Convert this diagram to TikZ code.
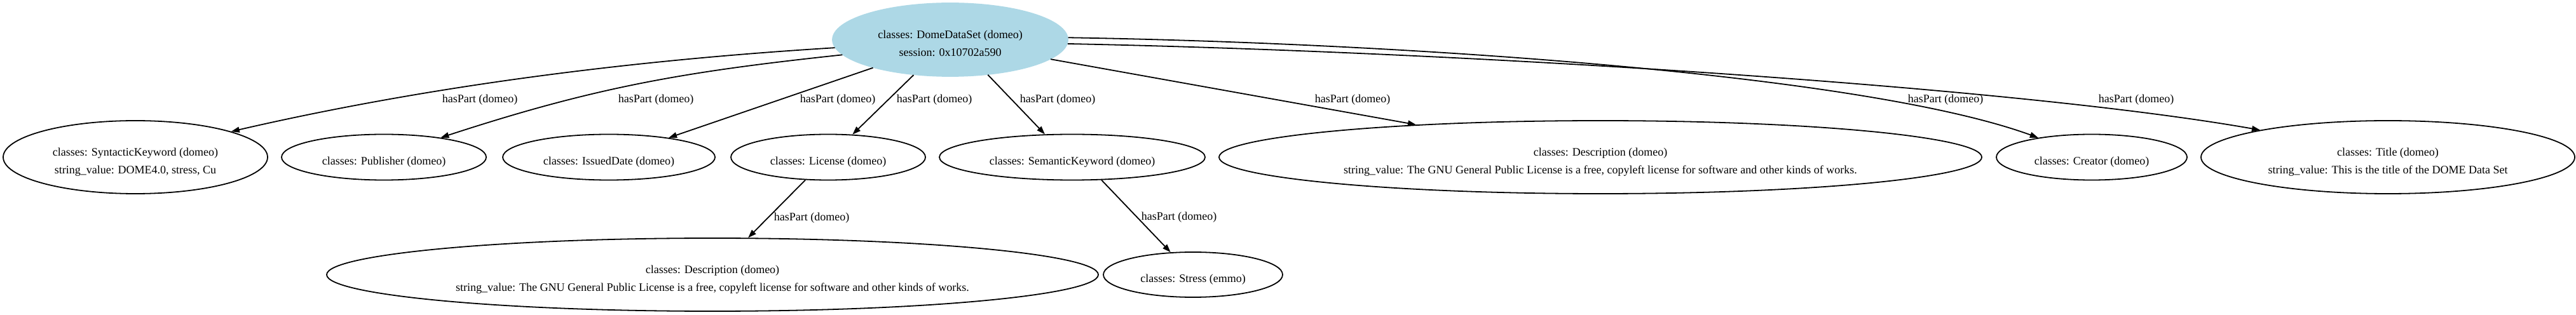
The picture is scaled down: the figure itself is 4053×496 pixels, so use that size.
\documentclass[tikz,border=0pt]{standalone}
\usepackage{fontspec}
\setmainfont{Liberation Serif}
\usetikzlibrary{arrows.meta,shapes.geometric}
\definecolor{rootblue}{HTML}{ADD8E6}
\newcommand\lowtxt[1]{\raisebox{-5.25pt}[0pt][0pt]{\begin{tabular}{@{}c@{}}#1\end{tabular}}}

\begin{document}
\begin{tikzpicture}[x=0.5pt,y=0.5pt,
  every node/.style={font=\fontsize{9}{14}\selectfont},
  obj/.style={ellipse,draw,line width=0.9pt,inner sep=0pt},
  dataset/.style={obj,fill=rootblue,draw=rootblue},
  haspart/.style={-{Triangle[length=6.5pt,width=4.5pt]},line width=0.9pt},
  lbl/.style={inner sep=0pt}]
  \useasboundingbox (0,0) rectangle (4053,-496);

  \node[dataset,minimum width=185pt,minimum height=57.5pt] (domedata) at (1495,-62.5)
    {\lowtxt{classes: DomeDataSet (domeo)\\session: 0x10702a590}};

  \node[obj,minimum width=208pt,minimum height=57.5pt] (synkey) at (213,-247.5)
    {\lowtxt{classes: SyntacticKeyword (domeo)\\string\_value: DOME4.0, stress, Cu}};
  \node[obj,minimum width=161pt,minimum height=36pt] (publisher) at (604,-247.5)
    {\lowtxt{classes: Publisher (domeo)}};
  \node[obj,minimum width=167pt,minimum height=36pt] (issued) at (958,-247.5)
    {\lowtxt{classes: IssuedDate (domeo)}};
  \node[obj,minimum width=153pt,minimum height=36pt] (license) at (1303,-247.5)
    {\lowtxt{classes: License (domeo)}};
  \node[obj,minimum width=209pt,minimum height=36pt] (semkey) at (1687,-247.5)
    {\lowtxt{classes: SemanticKeyword (domeo)}};
  \node[obj,minimum width=600pt,minimum height=57.5pt] (descr) at (2518,-247.5)
    {\lowtxt{classes: Description (domeo)\\string\_value: The GNU General Public License is a free, copyleft license for software and other kinds of works.}};
  \node[obj,minimum width=150pt,minimum height=36pt] (creator) at (3291,-247.5)
    {\lowtxt{classes: Creator (domeo)}};
  \node[obj,minimum width=294pt,minimum height=57.5pt] (title) at (3757,-247.5)
    {\lowtxt{classes: Title (domeo)\\string\_value: This is the title of the DOME Data Set}};

  \node[obj,minimum width=607pt,minimum height=57.5pt] (licdescr) at (1121,-432.5)
    {\lowtxt{classes: Description (domeo)\\string\_value: The GNU General Public License is a free, copyleft license for software and other kinds of works.}};
  \node[obj,minimum width=141pt,minimum height=35.5pt] (stress) at (1877,-432.5)
    {\lowtxt{classes: Stress (emmo)}};

  \draw[haspart] (domedata.184.6) .. controls +(-319,-19.5) and +(312,72) .. (synkey.15.4);
  \draw[haspart] (domedata.188.3) .. controls +(-254,-27) and +(242,79) .. (publisher.19.5);
  \draw[haspart] (domedata.200) -- (issued.18);
  \draw[haspart] (domedata.224.4) -- (license.43);
  \draw[haspart] (domedata.317.8) -- (semkey.140);
  \draw[haspart] (domedata.349.5) -- (descr.170.1);
  \draw[haspart] (domedata.1) .. controls +(500,-8) and +(-282,102.6) .. (creator.160);
  \draw[haspart] (domedata.358) .. controls +(600,-12) and +(-394,69.5) .. (title.168.7);
  \draw[haspart] (license.225) -- (licdescr.46.7);
  \draw[haspart] (semkey.322.6) -- (stress.135.5);

  \node[lbl] (lab1) at (755,-157) {hasPart (domeo)};
  \node[lbl] (lab2) at (1032,-157) {hasPart (domeo)};
  \node[lbl] (lab3) at (1318,-157) {hasPart (domeo)};
  \node[lbl] (lab4) at (1470,-157) {hasPart (domeo)};
  \node[lbl] (lab5) at (1664,-157) {hasPart (domeo)};
  \node[lbl] (lab6) at (2128,-157) {hasPart (domeo)};
  \node[lbl] (lab7) at (3061,-157) {hasPart (domeo)};
  \node[lbl] (lab8) at (3361,-157) {hasPart (domeo)};
  \node[lbl] (lab9) at (1277,-343) {hasPart (domeo)};
  \node[lbl] (lab10) at (1855,-342) {hasPart (domeo)};
\end{tikzpicture}
\end{document}
